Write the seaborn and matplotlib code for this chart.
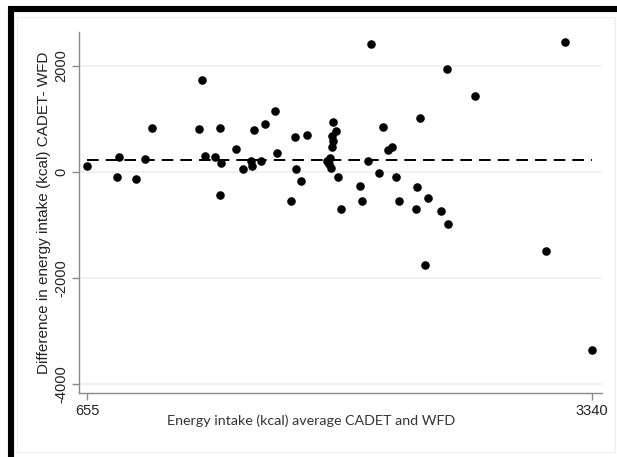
import matplotlib
matplotlib.use("Agg")
import matplotlib.pyplot as plt
from matplotlib.patches import Rectangle
import seaborn as sns
import pandas as pd

# Bland-Altman data: average energy intake (kcal) vs difference CADET - WFD
avg_kcal = [655, 810, 824, 913, 959, 998, 1249, 1262, 1281, 1333,
            1360, 1360, 1365, 1445, 1482, 1523, 1530, 1539, 1576, 1598,
            1652, 1665, 1739, 1759, 1766, 1789, 1821, 1928, 1945, 1942,
            1950, 1964, 1977, 1958, 1964, 1958, 1989, 2005, 2106, 2115,
            2147, 2163, 2206, 2229, 2252, 2273, 2298, 2312, 2403, 2410,
            2424, 2452, 2465, 2534, 2569, 2573, 2715, 3093, 3197, 3340]
diff_kcal = [113, -100, 277, -132, 251, 825, 811, 1730, 308, 283,
             825, -434, 164, 440, 57, 208, 119, 792, 202, 900,
             1157, 358, -553, 655, 51, -175, 692, 217, 264, 151,
             75, 938, 783, 679, 585, 472, -100, -704, -264, -547,
             202, 2409, -13, 849, 415, 477, -94, -542, -704, -289,
             1025, -1749, -485, -730, 1938, -987, 1434, -1491, 2447, -3364]
mean_diff = 226
x_ticks = [655, 3340]
y_ticks = [-4000, -2000, 0, 2000]
x_label = "Energy intake (kcal) average CADET and WFD"
y_label = "Difference in energy intake (kcal) CADET- WFD"

df = pd.DataFrame({"avg": avg_kcal, "diff": diff_kcal})

sns.set_theme(style="white")
plt.rcParams["font.family"] = ["Liberation Sans", "DejaVu Sans"]

fig = plt.figure(figsize=(6.17, 4.57), dpi=100)
ax = fig.add_axes([79 / 617, 1 - 393 / 457, (602 - 79) / 617, (393 - 32) / 457])

for yt in y_ticks:
    ax.axhline(yt, color="#eaf1f3", lw=1.2, zorder=0)

ax.plot([min(avg_kcal), max(avg_kcal)], [mean_diff, mean_diff], color="black",
        lw=1.4, dashes=(6, 3.6), zorder=2)

sns.scatterplot(data=df, x="avg", y="diff", ax=ax, color="black", s=38,
                edgecolor="black", linewidth=0, zorder=3, legend=False)

ax.set_xlim(610, 3393)
ax.set_ylim(-4170, 2642)
ax.set_xticks(x_ticks)
ax.set_xticklabels([str(v) for v in x_ticks])
ax.set_yticks(y_ticks)
ax.set_yticklabels([str(v) for v in y_ticks], rotation=90, va="center")

for s in ["top", "right"]:
    ax.spines[s].set_visible(False)
for s in ["left", "bottom"]:
    ax.spines[s].set_color("#8a8a8a")
    ax.spines[s].set_linewidth(1.0)

ax.tick_params(axis="both", which="both", direction="out", length=5, width=1,
               color="#8a8a8a", labelsize=10.5, labelcolor="#222222", pad=3,
               bottom=True, left=True)

ax.set_xlabel(x_label, fontsize=10.3, family=["Lato", "DejaVu Sans"], color="#333333")
ax.xaxis.set_label_coords((311 - 79) / 523, -(414 - 393) / 361, transform=ax.transAxes)
ax.set_ylabel(y_label, fontsize=11, color="#222222", labelpad=2)

# outer frame (partially cropped in the reference)
fig.patches.append(Rectangle((17 / 617, 1 - 452 / 457), (615 - 17) / 617, (452 - 17) / 457,
                             transform=fig.transFigure, fill=False,
                             edgecolor="#ededed", lw=0.8, zorder=0))
fig.patches.append(Rectangle((11 / 617, -0.2), 1.3, 1.2 - 9 / 457,
                             transform=fig.transFigure, fill=False,
                             edgecolor="black", lw=4.4, zorder=5))

fig.savefig("out.png", dpi=100)
